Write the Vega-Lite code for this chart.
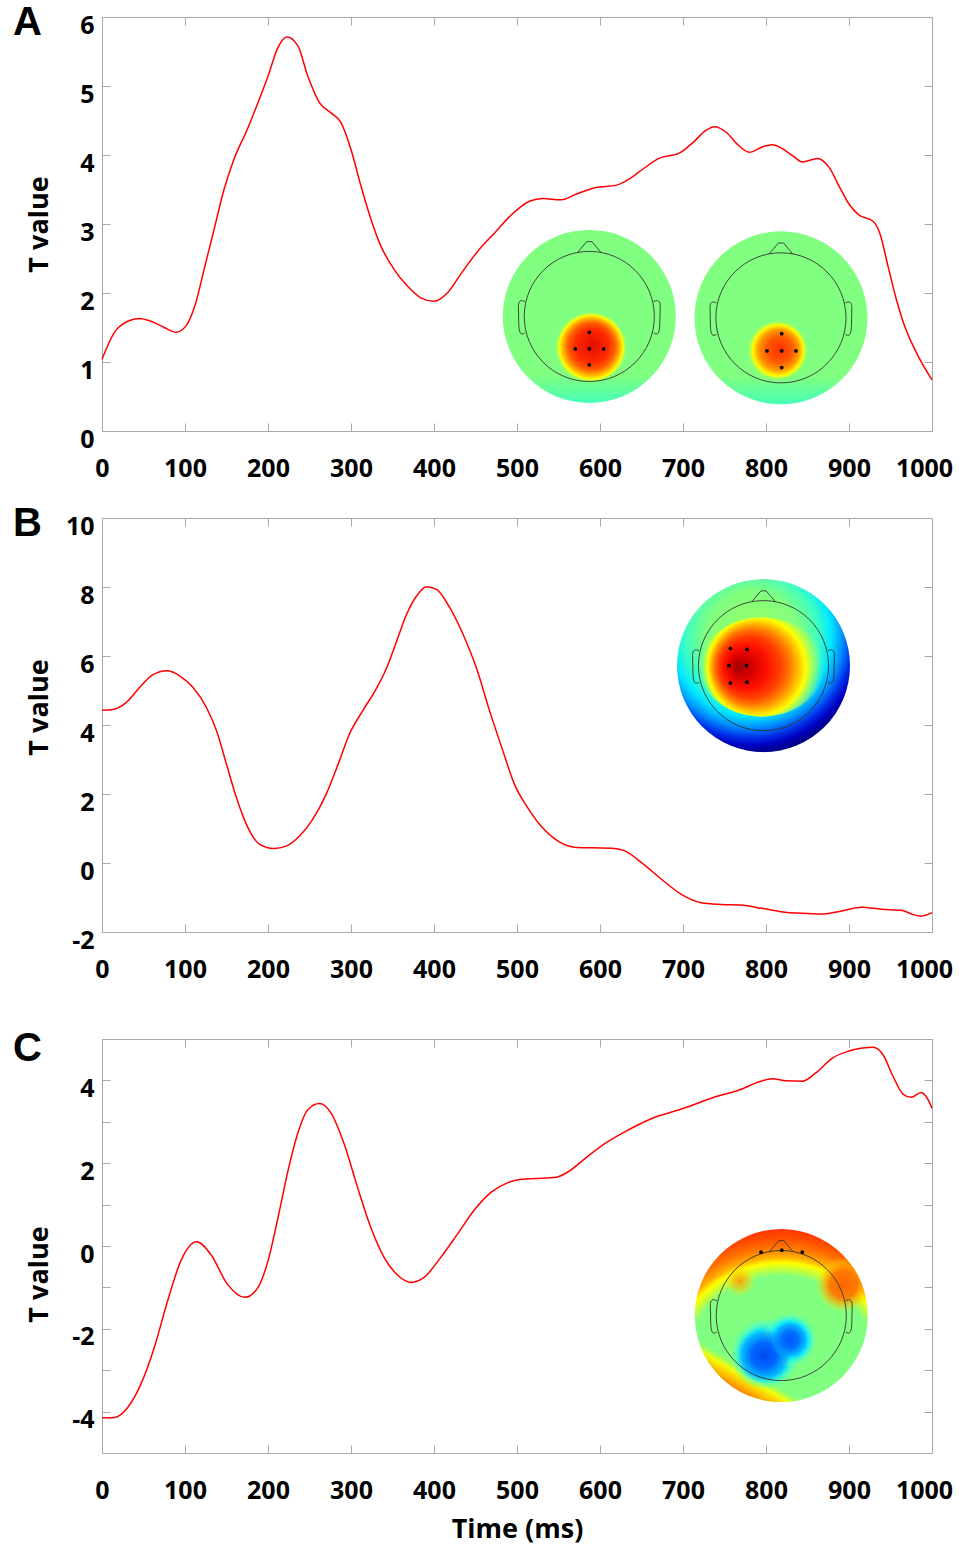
{
  "$schema": "https://vega.github.io/schema/vega-lite/v6.json",
  "background": "white",
  "padding": {"left": 12, "top": 2, "right": 0, "bottom": 4},
  "spacing": 21,
  "config": {
    "view": {"stroke": "#a9a9a9", "strokeWidth": 1},
    "axis": {"labelFont": "Open Sans", "labelFontWeight": "bold", "labelFontSize": 25, "labelColor": "#000", "titleFont": "Open Sans", "titleFontWeight": "bold", "titleFontSize": 27, "titleColor": "#000", "grid": false, "domain": false, "tickColor": "#a9a9a9", "tickWidth": 1}
  },
  "vconcat": [
    {
      "width": 830, "height": 414,
      "title": {"text": "A", "anchor": "start", "frame": "group", "orient": "top", "dx": -89, "offset": -42, "dy": -12, "baseline": "top", "font": "Liberation Sans", "fontSize": 40, "fontWeight": "bold", "color": "#000"},
      "layer": [
        {
          "data": {"values": [{"t": 587.1, "v": 1.66}, {"t": 818, "v": 1.64}]},
          "mark": {"type": "circle", "size": 29929, "opacity": 1, "fill": {"gradient": "linear", "x1": 0.5, "y1": 0, "x2": 0.5, "y2": 1, "stops": [{"offset": 0, "color": "#80ff80"}, {"offset": 0.84, "color": "#80ff80"}, {"offset": 1, "color": "#48ffb8"}]}},
          "encoding": {
            "x": {"field": "t", "type": "quantitative", "scale": {"domain": [0, 1000], "nice": false, "zero": false}, "axis": {"orient": "top", "values": [0, 100, 200, 300, 400, 500, 600, 700, 800, 900, 1000], "labels": false, "tickSize": -8, "title": null}},
            "y": {"field": "v", "type": "quantitative", "scale": {"domain": [0, 6], "nice": false, "zero": false}, "axis": {"orient": "right", "values": [0, 1, 2, 3, 4, 5, 6], "labels": false, "tickSize": -8, "title": null}}
          }
        },
        {
          "data": {"values": [{"t": 587.1, "v": 1.66}]},
          "mark": {"type": "circle", "size": 29929, "opacity": 1, "fill": {"gradient": "radial", "x1": 0.52, "y1": 0.66, "r1": 0, "x2": 0.51, "y2": 0.68, "r2": 0.21, "stops": [{"offset": 0, "color": "#e01000"}, {"offset": 0.45, "color": "#ff2800"}, {"offset": 0.65, "color": "#ff6000"}, {"offset": 0.8, "color": "#ffc000"}, {"offset": 0.88, "color": "#ffff00"}, {"offset": 1, "color": "rgba(128,255,128,0)"}]}},
          "encoding": {
            "x": {"field": "t", "type": "quantitative", "axis": {"orient": "bottom", "values": [0, 100, 200, 300, 400, 500, 600, 700, 800, 900, 1000], "labels": false, "tickSize": -8, "title": null}},
            "y": {"field": "v", "type": "quantitative", "axis": {"orient": "left", "values": [0, 1, 2, 3, 4, 5, 6], "labels": false, "tickSize": -8, "title": null}}
          }
        },
        {
          "data": {"values": [{"t": 818, "v": 1.64}]},
          "mark": {"type": "circle", "size": 29929, "opacity": 1, "fill": {"gradient": "radial", "x1": 0.5, "y1": 0.68, "r1": 0, "x2": 0.48, "y2": 0.69, "r2": 0.18, "stops": [{"offset": 0, "color": "#ff3000"}, {"offset": 0.4, "color": "#ff5800"}, {"offset": 0.65, "color": "#ff9a00"}, {"offset": 0.82, "color": "#ffff00"}, {"offset": 1, "color": "rgba(128,255,128,0)"}]}},
          "encoding": {
            "x": {"field": "t", "type": "quantitative", "axis": null},
            "y": {"field": "v", "type": "quantitative", "axis": null}
          }
        },
        {
          "data": {"values": [{"t": 587.1, "v": 1.66}, {"t": 818, "v": 1.64}]},
          "mark": {"type": "point", "shape": "M -0.752 0 A 0.752 0.752 0 1 1 0.752 0 A 0.752 0.752 0 1 1 -0.752 0 M -0.135 -0.74 L -0.03 -0.865 L 0.03 -0.865 L 0.135 -0.74 M -0.745 -0.17 C -0.79 -0.2 -0.82 -0.18 -0.82 -0.12 L -0.815 0.1 C -0.81 0.2 -0.79 0.22 -0.745 0.19 M 0.745 -0.17 C 0.79 -0.2 0.82 -0.18 0.82 -0.12 L 0.815 0.1 C 0.81 0.2 0.79 0.22 0.745 0.19", "size": 29929, "filled": false, "stroke": "#333333", "strokeWidth": 0.9, "opacity": 1},
          "encoding": {
            "x": {"field": "t", "type": "quantitative", "axis": null},
            "y": {"field": "v", "type": "quantitative", "axis": null}
          }
        },
        {
          "data": {"values": [{"t": 587.1, "v": 1.43}, {"t": 570.3, "v": 1.19}, {"t": 587.1, "v": 1.19}, {"t": 604.4, "v": 1.19}, {"t": 587.1, "v": 0.96}, {"t": 818.9, "v": 1.41}, {"t": 801.2, "v": 1.16}, {"t": 818.9, "v": 1.16}, {"t": 836.1, "v": 1.16}, {"t": 818.9, "v": 0.92}]},
          "mark": {"type": "circle", "size": 14, "color": "#000", "opacity": 1},
          "encoding": {
            "x": {"field": "t", "type": "quantitative", "axis": null},
            "y": {"field": "v", "type": "quantitative", "axis": null}
          }
        },
        {
          "data": {"values": [{"t":0,"v":1.04},{"t":15,"v":1.43},{"t":31,"v":1.59},{"t":45,"v":1.63},{"t":59,"v":1.59},{"t":75,"v":1.5},{"t":89,"v":1.43},{"t":101,"v":1.52},{"t":113,"v":1.86},{"t":123,"v":2.34},{"t":135,"v":2.92},{"t":147,"v":3.5},{"t":159,"v":3.94},{"t":175,"v":4.37},{"t":188,"v":4.76},{"t":200,"v":5.14},{"t":212,"v":5.56},{"t":223,"v":5.71},{"t":236,"v":5.58},{"t":248,"v":5.14},{"t":262,"v":4.76},{"t":276,"v":4.61},{"t":288,"v":4.47},{"t":300,"v":4.08},{"t":312,"v":3.55},{"t":324,"v":3.07},{"t":336,"v":2.68},{"t":352,"v":2.34},{"t":368,"v":2.1},{"t":384,"v":1.93},{"t":400,"v":1.88},{"t":416,"v":2.0},{"t":432,"v":2.27},{"t":453,"v":2.61},{"t":473,"v":2.87},{"t":493,"v":3.13},{"t":515,"v":3.33},{"t":531,"v":3.37},{"t":553,"v":3.35},{"t":571,"v":3.43},{"t":595,"v":3.53},{"t":619,"v":3.56},{"t":635,"v":3.65},{"t":651,"v":3.79},{"t":671,"v":3.95},{"t":696,"v":4.03},{"t":712,"v":4.18},{"t":728,"v":4.36},{"t":738,"v":4.41},{"t":752,"v":4.33},{"t":766,"v":4.15},{"t":780,"v":4.04},{"t":796,"v":4.12},{"t":808,"v":4.15},{"t":820,"v":4.09},{"t":832,"v":3.99},{"t":844,"v":3.9},{"t":862,"v":3.95},{"t":876,"v":3.82},{"t":888,"v":3.55},{"t":900,"v":3.29},{"t":912,"v":3.13},{"t":929,"v":3.04},{"t":937,"v":2.87},{"t":947,"v":2.39},{"t":957,"v":1.91},{"t":967,"v":1.52},{"t":981,"v":1.14},{"t":1000,"v":0.74}]},
          "mark": {"type": "line", "color": "#ff0000", "strokeWidth": 1.5, "interpolate": "monotone"},
          "encoding": {
            "x": {"field": "t", "type": "quantitative", "axis": {"orient": "bottom", "values": [0, 100, 200, 300, 400, 500, 600, 700, 800, 900, 1000], "ticks": false, "labelPadding": 25, "labelFlush": false, "labelOffset": {"condition": {"test": "datum.value === 1000", "value": -8}, "value": 0}, "labelExpr": "toString(datum.value)", "title": null}},
            "y": {"field": "v", "type": "quantitative", "axis": {"orient": "left", "values": [0, 1, 2, 3, 4, 5, 6], "ticks": false, "labelPadding": 8, "labelOffset": 8, "title": "T value", "titleX": -63, "titleY": 207, "titleAngle": -90, "titleAlign": "center", "titleBaseline": "middle"}}
          }
        }
      ],
      "resolve": {"axis": {"x": "independent", "y": "independent"}}
    },
    {
      "width": 830, "height": 414,
      "title": {"text": "B", "anchor": "start", "frame": "group", "orient": "top", "dx": -89, "offset": -42, "dy": -12, "baseline": "top", "font": "Liberation Sans", "fontSize": 40, "fontWeight": "bold", "color": "#000"},
      "layer": [
        {
          "data": {"values": [{"t": 797, "v": 5.72}]},
          "mark": {"type": "circle", "size": 29929, "opacity": 1, "fill": {"gradient": "radial", "x1": 0.45, "y1": 0.35, "r1": 0, "x2": 0.42, "y2": 0.32, "r2": 0.68, "stops": [{"offset": 0, "color": "#a0ff60"}, {"offset": 0.4, "color": "#80ff80"}, {"offset": 0.56, "color": "#40ffc0"}, {"offset": 0.68, "color": "#00e8ff"}, {"offset": 0.78, "color": "#0090ff"}, {"offset": 0.87, "color": "#0030e8"}, {"offset": 0.94, "color": "#0000c0"}, {"offset": 1, "color": "#00008c"}]}},
          "encoding": {
            "x": {"field": "t", "type": "quantitative", "scale": {"domain": [0, 1000], "nice": false, "zero": false}, "axis": {"orient": "top", "values": [0, 100, 200, 300, 400, 500, 600, 700, 800, 900, 1000], "labels": false, "tickSize": -8, "title": null}},
            "y": {"field": "v", "type": "quantitative", "scale": {"domain": [-2, 10], "nice": false, "zero": false}, "axis": {"orient": "right", "values": [-2, 0, 2, 4, 6, 8, 10], "labels": false, "tickSize": -8, "title": null}}
          }
        },
        {
          "data": {"values": [{"t": 795, "v": 5.68}]},
          "mark": {"type": "point", "shape": "M -1 0 A 1 0.8 0 1 1 1 0 A 1 0.8 0 1 1 -1 0 Z", "size": 15376, "filled": true, "strokeWidth": 0, "opacity": 1, "fill": {"gradient": "radial", "x1": 0.3, "y1": 0.5, "r1": 0, "x2": 0.5, "y2": 0.5, "r2": 0.5, "stops": [{"offset": 0, "color": "#a00000"}, {"offset": 0.15, "color": "#d00000"}, {"offset": 0.35, "color": "#ff1000"}, {"offset": 0.5, "color": "#ff4000"}, {"offset": 0.62, "color": "#ff8000"}, {"offset": 0.72, "color": "#ffc800"}, {"offset": 0.79, "color": "#ffff00"}, {"offset": 0.88, "color": "rgba(190,255,70,0.7)"}, {"offset": 1, "color": "rgba(150,255,110,0)"}]}},
          "encoding": {
            "x": {"field": "t", "type": "quantitative", "axis": {"orient": "bottom", "values": [0, 100, 200, 300, 400, 500, 600, 700, 800, 900, 1000], "labels": false, "tickSize": -8, "title": null}},
            "y": {"field": "v", "type": "quantitative", "axis": {"orient": "left", "values": [-2, 0, 2, 4, 6, 8, 10], "labels": false, "tickSize": -8, "title": null}}
          }
        },
        {
          "data": {"values": [{"t": 797, "v": 5.72}]},
          "mark": {"type": "point", "shape": "M -0.752 0 A 0.752 0.752 0 1 1 0.752 0 A 0.752 0.752 0 1 1 -0.752 0 M -0.135 -0.74 L -0.03 -0.865 L 0.03 -0.865 L 0.135 -0.74 M -0.745 -0.17 C -0.79 -0.2 -0.82 -0.18 -0.82 -0.12 L -0.815 0.1 C -0.81 0.2 -0.79 0.22 -0.745 0.19 M 0.745 -0.17 C 0.79 -0.2 0.82 -0.18 0.82 -0.12 L 0.815 0.1 C 0.81 0.2 0.79 0.22 0.745 0.19", "size": 29929, "filled": false, "stroke": "#333333", "strokeWidth": 0.9, "opacity": 1},
          "encoding": {
            "x": {"field": "t", "type": "quantitative", "axis": null},
            "y": {"field": "v", "type": "quantitative", "axis": null}
          }
        },
        {
          "data": {"values": [{"t": 757.1, "v": 6.22}, {"t": 777.1, "v": 6.19}, {"t": 755.4, "v": 5.72}, {"t": 776.5, "v": 5.72}, {"t": 757.1, "v": 5.22}, {"t": 777.1, "v": 5.24}]},
          "mark": {"type": "circle", "size": 14, "color": "#000", "opacity": 1},
          "encoding": {
            "x": {"field": "t", "type": "quantitative", "axis": null},
            "y": {"field": "v", "type": "quantitative", "axis": null}
          }
        },
        {
          "data": {"values": [{"t":0,"v":4.43},{"t":13,"v":4.45},{"t":29,"v":4.65},{"t":45,"v":5.08},{"t":61,"v":5.45},{"t":78,"v":5.57},{"t":94,"v":5.42},{"t":110,"v":5.08},{"t":126,"v":4.5},{"t":138,"v":3.83},{"t":150,"v":2.86},{"t":162,"v":1.89},{"t":174,"v":1.12},{"t":190,"v":0.54},{"t":207,"v":0.42},{"t":222,"v":0.49},{"t":238,"v":0.78},{"t":254,"v":1.27},{"t":270,"v":1.99},{"t":286,"v":2.96},{"t":298,"v":3.73},{"t":314,"v":4.41},{"t":330,"v":5.03},{"t":343,"v":5.66},{"t":355,"v":6.43},{"t":367,"v":7.21},{"t":379,"v":7.74},{"t":391,"v":8.01},{"t":403,"v":7.93},{"t":419,"v":7.4},{"t":435,"v":6.63},{"t":451,"v":5.66},{"t":467,"v":4.41},{"t":483,"v":3.25},{"t":497,"v":2.28},{"t":513,"v":1.6},{"t":529,"v":1.07},{"t":549,"v":0.64},{"t":569,"v":0.46},{"t":590,"v":0.44},{"t":614,"v":0.43},{"t":630,"v":0.35},{"t":650,"v":0.01},{"t":674,"v":-0.47},{"t":698,"v":-0.91},{"t":722,"v":-1.15},{"t":746,"v":-1.2},{"t":770,"v":-1.22},{"t":794,"v":-1.31},{"t":818,"v":-1.41},{"t":843,"v":-1.46},{"t":867,"v":-1.48},{"t":887,"v":-1.41},{"t":915,"v":-1.28},{"t":939,"v":-1.34},{"t":963,"v":-1.37},{"t":977,"v":-1.49},{"t":987,"v":-1.54},{"t":1000,"v":-1.44}]},
          "mark": {"type": "line", "color": "#ff0000", "strokeWidth": 1.5, "interpolate": "monotone"},
          "encoding": {
            "x": {"field": "t", "type": "quantitative", "axis": {"orient": "bottom", "values": [0, 100, 200, 300, 400, 500, 600, 700, 800, 900, 1000], "ticks": false, "labelPadding": 25, "labelFlush": false, "labelOffset": {"condition": {"test": "datum.value === 1000", "value": -8}, "value": 0}, "labelExpr": "toString(datum.value)", "title": " ", "titleFontSize": 24, "titleX": 415, "titleY": 50, "titleBaseline": "top"}},
            "y": {"field": "v", "type": "quantitative", "axis": {"orient": "left", "values": [-2, 0, 2, 4, 6, 8, 10], "ticks": false, "labelPadding": 8, "labelOffset": 8, "labelExpr": "toString(datum.value)", "title": "T value", "titleX": -63, "titleY": 189, "titleAngle": -90, "titleAlign": "center", "titleBaseline": "middle"}}
          }
        }
      ],
      "resolve": {"axis": {"x": "independent", "y": "independent"}}
    },
    {
      "width": 830, "height": 414,
      "title": {"text": "C", "anchor": "start", "frame": "group", "orient": "top", "dx": -89, "offset": -42, "dy": -12, "baseline": "top", "font": "Liberation Sans", "fontSize": 40, "fontWeight": "bold", "color": "#000"},
      "layer": [
        {
          "data": {"values": [{"t": 818.4, "v": -1.68}]},
          "mark": {"type": "circle", "size": 29929, "opacity": 1, "fill": {"gradient": "radial", "x1": 0.5, "y1": 0.85, "r1": 0, "x2": 0.5, "y2": 0.85, "r2": 0.85, "stops": [{"offset": 0, "color": "#80ff80"}, {"offset": 0.68, "color": "#80ff80"}, {"offset": 0.73, "color": "#c8ff38"}, {"offset": 0.77, "color": "#ffff00"}, {"offset": 0.81, "color": "#ffb000"}, {"offset": 0.87, "color": "#ff7800"}, {"offset": 0.94, "color": "#ff4c00"}, {"offset": 1, "color": "#ff3400"}]}},
          "encoding": {
            "x": {"field": "t", "type": "quantitative", "scale": {"domain": [0, 1000], "nice": false, "zero": false}, "axis": {"orient": "top", "values": [0, 100, 200, 300, 400, 500, 600, 700, 800, 900, 1000], "labels": false, "tickSize": -8, "title": null}},
            "y": {"field": "v", "type": "quantitative", "scale": {"domain": [-5, 5], "nice": false, "zero": false}, "axis": {"orient": "right", "values": [-4, -3, -2, -1, 0, 1, 2, 3, 4], "labels": false, "tickSize": -8, "title": null}}
          }
        },
        {
          "data": {"values": [{"t": 818.4, "v": -1.68}]},
          "mark": {"type": "circle", "size": 29929, "opacity": 1, "fill": {"gradient": "linear", "x1": 0.5, "y1": 0.5, "x2": 0.25, "y2": 0.933, "stops": [{"offset": 0, "color": "rgba(128,255,128,0)"}, {"offset": 0.72, "color": "rgba(160,255,90,0)"}, {"offset": 0.82, "color": "rgba(240,255,10,1)"}, {"offset": 0.92, "color": "rgba(255,190,0,1)"}, {"offset": 1, "color": "rgba(255,130,0,1)"}]}},
          "encoding": {
            "x": {"field": "t", "type": "quantitative", "axis": {"orient": "bottom", "values": [0, 100, 200, 300, 400, 500, 600, 700, 800, 900, 1000], "labels": false, "tickSize": -8, "title": null}},
            "y": {"field": "v", "type": "quantitative", "axis": {"orient": "left", "values": [-4, -3, -2, -1, 0, 1, 2, 3, 4], "labels": false, "tickSize": -8, "title": null}}
          }
        },
        {
          "data": {"values": [{"t": 818.4, "v": -1.68}]},
          "mark": {"type": "circle", "size": 29929, "opacity": 1, "fill": {"gradient": "radial", "x1": 0.86, "y1": 0.32, "r1": 0, "x2": 0.86, "y2": 0.32, "r2": 0.16, "stops": [{"offset": 0, "color": "rgba(255,100,0,1)"}, {"offset": 0.5, "color": "rgba(255,120,0,0.95)"}, {"offset": 0.75, "color": "rgba(255,180,0,0.6)"}, {"offset": 1, "color": "rgba(255,230,0,0)"}]}},
          "encoding": {
            "x": {"field": "t", "type": "quantitative", "axis": null},
            "y": {"field": "v", "type": "quantitative", "axis": null}
          }
        },
        {
          "data": {"values": [{"t": 818.4, "v": -1.68}]},
          "mark": {"type": "circle", "size": 29929, "opacity": 1, "fill": {"gradient": "radial", "x1": 0.26, "y1": 0.3, "r1": 0, "x2": 0.26, "y2": 0.3, "r2": 0.09, "stops": [{"offset": 0, "color": "rgba(255,150,0,0.9)"}, {"offset": 0.5, "color": "rgba(255,190,0,0.6)"}, {"offset": 1, "color": "rgba(255,235,0,0)"}]}},
          "encoding": {
            "x": {"field": "t", "type": "quantitative", "axis": null},
            "y": {"field": "v", "type": "quantitative", "axis": null}
          }
        },
        {
          "data": {"values": [{"t": 818.4, "v": -1.68}]},
          "mark": {"type": "circle", "size": 29929, "opacity": 1, "fill": {"gradient": "radial", "x1": 0.41, "y1": 0.72, "r1": 0, "x2": 0.41, "y2": 0.72, "r2": 0.21, "stops": [{"offset": 0, "color": "#00c8ff"}, {"offset": 0.65, "color": "#10e8ff"}, {"offset": 0.85, "color": "rgba(80,255,190,0.6)"}, {"offset": 1, "color": "rgba(128,255,128,0)"}]}},
          "encoding": {
            "x": {"field": "t", "type": "quantitative", "axis": null},
            "y": {"field": "v", "type": "quantitative", "axis": null}
          }
        },
        {
          "data": {"values": [{"t": 818.4, "v": -1.68}]},
          "mark": {"type": "circle", "size": 29929, "opacity": 1, "fill": {"gradient": "radial", "x1": 0.55, "y1": 0.64, "r1": 0, "x2": 0.55, "y2": 0.64, "r2": 0.16, "stops": [{"offset": 0, "color": "#00c8ff"}, {"offset": 0.65, "color": "#10e8ff"}, {"offset": 0.85, "color": "rgba(80,255,190,0.6)"}, {"offset": 1, "color": "rgba(128,255,128,0)"}]}},
          "encoding": {
            "x": {"field": "t", "type": "quantitative", "axis": null},
            "y": {"field": "v", "type": "quantitative", "axis": null}
          }
        },
        {
          "data": {"values": [{"t": 818.4, "v": -1.68}]},
          "mark": {"type": "circle", "size": 29929, "opacity": 1, "fill": {"gradient": "radial", "x1": 0.47, "y1": 0.69, "r1": 0, "x2": 0.47, "y2": 0.69, "r2": 0.1, "stops": [{"offset": 0, "color": "rgba(0,130,255,0.9)"}, {"offset": 0.6, "color": "rgba(0,160,255,0.6)"}, {"offset": 1, "color": "rgba(0,210,255,0)"}]}},
          "encoding": {
            "x": {"field": "t", "type": "quantitative", "axis": null},
            "y": {"field": "v", "type": "quantitative", "axis": null}
          }
        },
        {
          "data": {"values": [{"t": 818.4, "v": -1.68}]},
          "mark": {"type": "circle", "size": 29929, "opacity": 1, "fill": {"gradient": "radial", "x1": 0.4, "y1": 0.73, "r1": 0, "x2": 0.4, "y2": 0.73, "r2": 0.16, "stops": [{"offset": 0, "color": "#0048f0"}, {"offset": 0.45, "color": "#0068ff"}, {"offset": 0.8, "color": "rgba(0,150,255,0.6)"}, {"offset": 1, "color": "rgba(0,210,255,0)"}]}},
          "encoding": {
            "x": {"field": "t", "type": "quantitative", "axis": null},
            "y": {"field": "v", "type": "quantitative", "axis": null}
          }
        },
        {
          "data": {"values": [{"t": 818.4, "v": -1.68}]},
          "mark": {"type": "circle", "size": 29929, "opacity": 1, "fill": {"gradient": "radial", "x1": 0.55, "y1": 0.64, "r1": 0, "x2": 0.55, "y2": 0.64, "r2": 0.11, "stops": [{"offset": 0, "color": "#0058ff"}, {"offset": 0.45, "color": "#0070ff"}, {"offset": 0.8, "color": "rgba(0,150,255,0.6)"}, {"offset": 1, "color": "rgba(0,210,255,0)"}]}},
          "encoding": {
            "x": {"field": "t", "type": "quantitative", "axis": null},
            "y": {"field": "v", "type": "quantitative", "axis": null}
          }
        },
        {
          "data": {"values": [{"t": 818.4, "v": -1.68}]},
          "mark": {"type": "point", "shape": "M -0.752 0 A 0.752 0.752 0 1 1 0.752 0 A 0.752 0.752 0 1 1 -0.752 0 M -0.135 -0.74 L -0.03 -0.865 L 0.03 -0.865 L 0.135 -0.74 M -0.745 -0.17 C -0.79 -0.2 -0.82 -0.18 -0.82 -0.12 L -0.815 0.1 C -0.81 0.2 -0.79 0.22 -0.745 0.19 M 0.745 -0.17 C 0.79 -0.2 0.82 -0.18 0.82 -0.12 L 0.815 0.1 C 0.81 0.2 0.79 0.22 0.745 0.19", "size": 29929, "filled": false, "stroke": "#333333", "strokeWidth": 0.9, "opacity": 1},
          "encoding": {
            "x": {"field": "t", "type": "quantitative", "axis": null},
            "y": {"field": "v", "type": "quantitative", "axis": null}
          }
        },
        {
          "data": {"values": [{"t": 794, "v": -0.15}, {"t": 819, "v": -0.1}, {"t": 843.7, "v": -0.15}]},
          "mark": {"type": "circle", "size": 14, "color": "#000", "opacity": 1},
          "encoding": {
            "x": {"field": "t", "type": "quantitative", "axis": null},
            "y": {"field": "v", "type": "quantitative", "axis": null}
          }
        },
        {
          "data": {"values": [{"t":0,"v":-4.15},{"t":15,"v":-4.14},{"t":31,"v":-3.9},{"t":47,"v":-3.33},{"t":63,"v":-2.45},{"t":79,"v":-1.33},{"t":95,"v":-0.36},{"t":114,"v":0.1},{"t":131,"v":-0.2},{"t":151,"v":-0.92},{"t":172,"v":-1.24},{"t":188,"v":-1.0},{"t":200,"v":-0.36},{"t":212,"v":0.68},{"t":224,"v":1.81},{"t":236,"v":2.73},{"t":248,"v":3.29},{"t":262,"v":3.44},{"t":276,"v":3.21},{"t":292,"v":2.45},{"t":308,"v":1.41},{"t":324,"v":0.44},{"t":340,"v":-0.28},{"t":356,"v":-0.7},{"t":373,"v":-0.88},{"t":388,"v":-0.76},{"t":408,"v":-0.28},{"t":428,"v":0.28},{"t":449,"v":0.88},{"t":469,"v":1.3},{"t":489,"v":1.53},{"t":505,"v":1.61},{"t":523,"v":1.63},{"t":547,"v":1.66},{"t":563,"v":1.81},{"t":583,"v":2.13},{"t":607,"v":2.49},{"t":631,"v":2.77},{"t":659,"v":3.05},{"t":700,"v":3.32},{"t":740,"v":3.61},{"t":772,"v":3.8},{"t":788,"v":3.94},{"t":808,"v":4.04},{"t":824,"v":3.99},{"t":844,"v":3.98},{"t":860,"v":4.18},{"t":880,"v":4.54},{"t":900,"v":4.71},{"t":916,"v":4.78},{"t":929,"v":4.8},{"t":941,"v":4.62},{"t":953,"v":4.1},{"t":965,"v":3.67},{"t":975,"v":3.59},{"t":987,"v":3.71},{"t":993,"v":3.61},{"t":1000,"v":3.33}]},
          "mark": {"type": "line", "color": "#ff0000", "strokeWidth": 1.5, "interpolate": "monotone"},
          "encoding": {
            "x": {"field": "t", "type": "quantitative", "axis": {"orient": "bottom", "values": [0, 100, 200, 300, 400, 500, 600, 700, 800, 900, 1000], "ticks": false, "labelPadding": 25, "labelFlush": false, "labelOffset": {"condition": {"test": "datum.value === 1000", "value": -8}, "value": 0}, "labelExpr": "toString(datum.value)", "title": "Time (ms)", "titleX": 415, "titleY": 76, "titleAlign": "center", "titleBaseline": "middle"}},
            "y": {"field": "v", "type": "quantitative", "axis": {"orient": "left", "values": [-4, -3, -2, -1, 0, 1, 2, 3, 4], "ticks": false, "labelPadding": 8, "labelOffset": 8, "labelExpr": "datum.value % 2 === 0 ? toString(datum.value) : ''", "title": "T value", "titleX": -63, "titleY": 235, "titleAngle": -90, "titleAlign": "center", "titleBaseline": "middle"}}
          }
        }
      ],
      "resolve": {"axis": {"x": "independent", "y": "independent"}}
    }
  ]
}
